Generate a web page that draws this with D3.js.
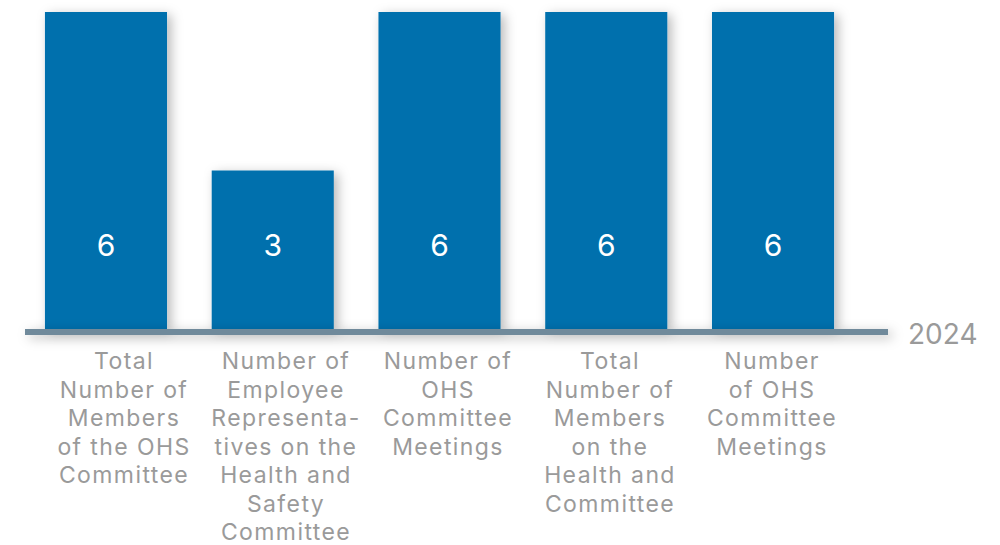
<!DOCTYPE html>
<html>
<head>
<meta charset="utf-8">
<script src="https://cdn.jsdelivr.net/npm/d3@7"></script>
<style>
  html, body { margin: 0; padding: 0; background: #fff; }
  svg { display: block; }
</style>
</head>
<body>
<svg id="chart" width="1000" height="545"></svg>
<script>
// OHS committee figures, 2024
const categories = [
  "Total\nNumber of\nMembers\nof the OHS\nCommittee",
  "Number of\nEmployee\nRepresenta-\ntives on the\nHealth and\nSafety\nCommittee",
  "Number of\nOHS\nCommittee\nMeetings",
  "Total\nNumber of\nMembers\non the\nHealth and\nCommittee",
  "Number\nof OHS\nCommittee\nMeetings"
];
const values = [6, 3, 6, 6, 6];
const seriesLabel = "2024";
const yDomain = [0, 6];

const svg = d3.select("#chart");
const font = "Inter, 'Open Sans', sans-serif";

// soft drop shadow shared by bars and the baseline
const defs = svg.append("defs");
const f = defs.append("filter").attr("id", "shadow")
  .attr("filterUnits", "userSpaceOnUse")
  .attr("x", 0).attr("y", 0).attr("width", 1000).attr("height", 545);
f.append("feDropShadow")
  .attr("dx", 4).attr("dy", 3).attr("stdDeviation", 6)
  .attr("flood-color", "#000").attr("flood-opacity", 0.28);

const idx = d3.range(categories.length);

const x = d3.scaleBand()
  .domain(idx)
  .range([22.6, 856.4])
  .paddingInner(0.268)
  .paddingOuter(0.134);

const xLabel = d3.scalePoint()
  .domain(idx)
  .range([124, 772]);

const y = d3.scaleLinear()
  .domain(yDomain)
  .range([329, 12]);

// bars
svg.append("g")
  .selectAll("rect")
  .data(idx)
  .join("rect")
  .attr("x", i => x(i))
  .attr("y", i => y(values[i]))
  .attr("width", x.bandwidth())
  .attr("height", i => y(0) - y(values[i]))
  .attr("fill", "#0070ad")
  .attr("filter", "url(#shadow)");

// value labels inside the bars
svg.append("g")
  .selectAll("text")
  .data(idx)
  .join("text")
  .attr("x", i => x(i) + x.bandwidth() / 2)
  .attr("y", y(0) - 73)
  .attr("text-anchor", "middle")
  .attr("font-family", font)
  .attr("font-size", 30)
  .attr("font-weight", 400)
  .attr("fill", "#fff")
  .text(i => values[i]);

// baseline
svg.append("rect")
  .attr("x", 25).attr("width", 863)
  .attr("y", y(0)).attr("height", 6)
  .attr("fill", "#6f8a9b")
  .attr("filter", "url(#shadow)");

// series label at the end of the baseline
svg.append("text")
  .attr("x", 908)
  .attr("y", 344)
  .attr("font-family", font)
  .attr("font-size", 28)
  .attr("font-weight", 400)
  .attr("fill", "#9a9a9a")
  .text(seriesLabel);

// wrapped category labels
const lineH = 28.5;
const lab = svg.append("g")
  .selectAll("text")
  .data(idx)
  .join("text")
  .attr("x", i => xLabel(i))
  .attr("y", 369)
  .attr("text-anchor", "middle")
  .attr("font-family", font)
  .attr("font-size", 23)
  .attr("font-weight", 400)
  .attr("letter-spacing", 1.4)
  .attr("fill", "#9a9a9a");

lab.each(function(i) {
  const t = d3.select(this);
  categories[i].split("\n").forEach((line, k) => {
    t.append("tspan")
      .attr("x", xLabel(i))
      .attr("y", 369 + k * lineH)
      .text(line);
  });
});
</script>
</body>
</html>
